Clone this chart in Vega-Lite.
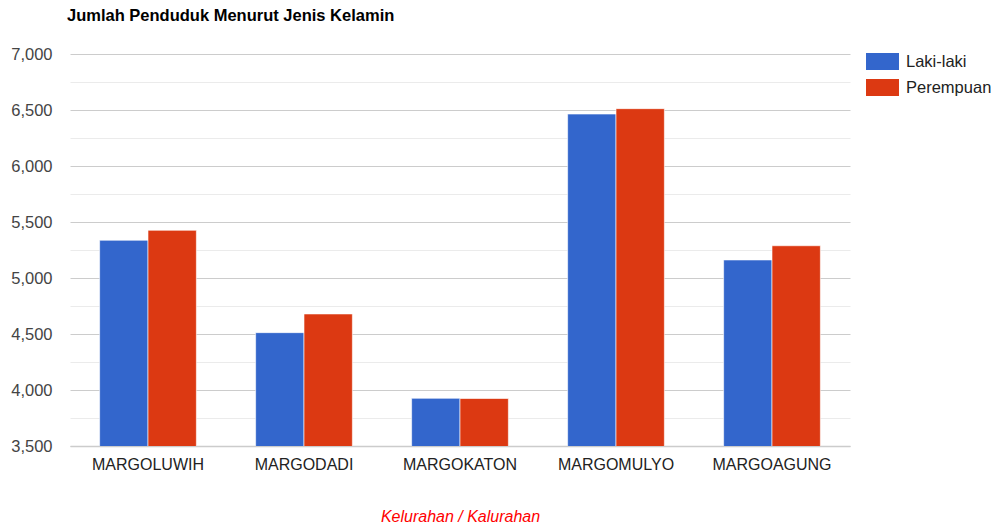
{
  "$schema": "https://vega.github.io/schema/vega-lite/v6.json",
  "width": 780,
  "height": 392,
  "autosize": {"type": "none"},
  "padding": {"left": 70, "top": 54, "right": 143, "bottom": 84},
  "background": "white",
  "title": {
    "text": "Jumlah Penduduk Menurut Jenis Kelamin",
    "anchor": "start",
    "frame": "group",
    "font": "Liberation Sans",
    "fontSize": 16.5,
    "fontWeight": "bold",
    "color": "#000000",
    "dx": -3,
    "offset": 22
  },
  "data": {
    "values": [
      {"kelurahan": "MARGOLUWIH", "jenis": "Laki-laki", "jumlah": 5337},
      {"kelurahan": "MARGOLUWIH", "jenis": "Perempuan", "jumlah": 5426},
      {"kelurahan": "MARGODADI", "jenis": "Laki-laki", "jumlah": 4512},
      {"kelurahan": "MARGODADI", "jenis": "Perempuan", "jumlah": 4679},
      {"kelurahan": "MARGOKATON", "jenis": "Laki-laki", "jumlah": 3926},
      {"kelurahan": "MARGOKATON", "jenis": "Perempuan", "jumlah": 3924},
      {"kelurahan": "MARGOMULYO", "jenis": "Laki-laki", "jumlah": 6464},
      {"kelurahan": "MARGOMULYO", "jenis": "Perempuan", "jumlah": 6512},
      {"kelurahan": "MARGOAGUNG", "jenis": "Laki-laki", "jumlah": 5161},
      {"kelurahan": "MARGOAGUNG", "jenis": "Perempuan", "jumlah": 5288}
    ]
  },
  "mark": {"type": "bar", "clip": true, "stroke": "white", "strokeWidth": 1, "strokeOpacity": 0.6},
  "encoding": {
    "x": {
      "field": "kelurahan",
      "type": "nominal",
      "sort": null,
      "scale": {"paddingInner": 0.38, "paddingOuter": 0.19},
      "axis": {
        "title": "Kelurahan / Kalurahan",
        "titleFont": "Liberation Sans",
        "titleFontSize": 16,
        "titleFontStyle": "italic",
        "titleFontWeight": "normal",
        "titleColor": "#ff0000",
        "titlePadding": 36,
        "labelAngle": 0,
        "labelFont": "Liberation Sans",
        "labelFontSize": 16,
        "labelColor": "#222222",
        "labelPadding": 10,
        "ticks": false,
        "domain": true,
        "domainColor": "#cccccc",
        "domainWidth": 1.5,
        "grid": false
      }
    },
    "xOffset": {"field": "jenis", "type": "nominal", "scale": {"paddingInner": 0, "paddingOuter": 0}},
    "y": {
      "field": "jumlah",
      "type": "quantitative",
      "scale": {"domain": [3500, 7000], "zero": false, "nice": false},
      "axis": {
        "title": null,
        "values": [3500, 3750, 4000, 4250, 4500, 4750, 5000, 5250, 5500, 5750, 6000, 6250, 6500, 6750, 7000],
        "format": ",d",
        "labelExpr": "datum.value % 500 === 0 ? datum.label : ''",
        "labelFont": "Liberation Sans",
        "labelFontSize": 16.5,
        "labelColor": "#444444",
        "labelPadding": 18,
        "ticks": false,
        "domain": false,
        "grid": true,
        "gridColor": {"condition": {"test": "datum.value % 500 === 0", "value": "#cccccc"}, "value": "#ebebeb"},
        "gridWidth": 1
      }
    },
    "color": {
      "field": "jenis",
      "type": "nominal",
      "scale": {"domain": ["Laki-laki", "Perempuan"], "range": ["#3366cc", "#dc3912"]},
      "legend": {
        "title": null,
        "orient": "none",
        "legendX": 804,
        "legendY": -1,
        "symbolType": "M-1.94,-1H1.94V1H-1.94Z",
        "symbolSize": 289,
        "symbolStrokeWidth": 0,
        "symbolOpacity": 1,
        "labelFont": "Liberation Sans",
        "labelFontSize": 16.5,
        "labelColor": "#222222",
        "labelOffset": 15,
        "rowPadding": 9
      }
    }
  },
  "config": {"view": {"stroke": null}}
}
